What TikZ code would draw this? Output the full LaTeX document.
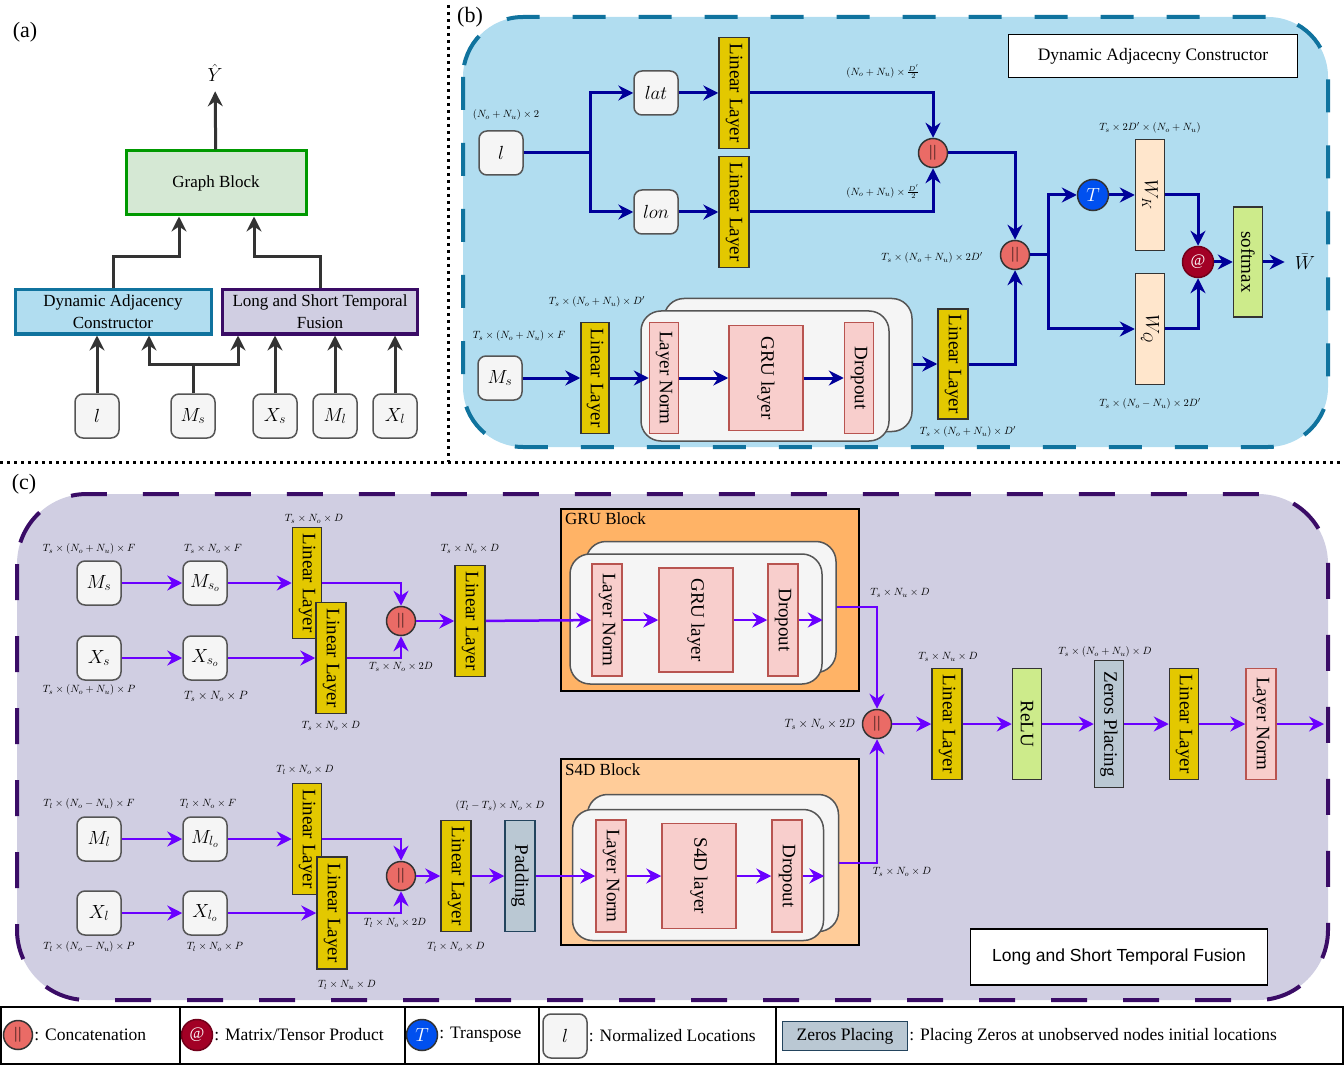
\documentclass[tikz,border=0pt]{standalone}
\usepackage{fix-cm}
\usepackage{amsmath,amssymb}
\usepackage{fontspec}
\setmainfont{Liberation Serif}
\newfontfamily\legsans{Liberation Sans}
\usepackage{xcolor}
\usetikzlibrary{shapes,arrows,arrows.meta,positioning,calc,fit}

\definecolor{boxgray}{HTML}{F5F5F5}
\definecolor{grayline}{HTML}{555555}
\definecolor{panelb}{HTML}{B1DDF0}
\definecolor{panelbline}{HTML}{10739E}
\definecolor{panelc}{HTML}{D0CEE2}
\definecolor{panelcline}{HTML}{3A0C66}
\definecolor{gbfill}{HTML}{D5E8D4}
\definecolor{gbline}{HTML}{009900}
\definecolor{linfill}{HTML}{E3C800}
\definecolor{normfill}{HTML}{F8CECC}
\definecolor{normline}{HTML}{B85450}
\definecolor{wfill}{HTML}{FFE6CC}
\definecolor{smfill}{HTML}{CDEB8B}
\definecolor{zerofill}{HTML}{BAC8D3}
\definecolor{zeroline}{HTML}{23445D}
\definecolor{grufill}{HTML}{FFB366}
\definecolor{s4dfill}{HTML}{FFCC99}
\definecolor{catfill}{HTML}{EA6B66}
\definecolor{trfill}{HTML}{0050EF}
\definecolor{atfill}{HTML}{A20025}
\definecolor{arrowa}{HTML}{333333}
\definecolor{arrowb}{HTML}{000099}
\definecolor{arrowc}{HTML}{6A00FF}

\begin{document}
\begin{tikzpicture}[x=1pt, y=-1pt, >={Stealth[length=15pt,width=15pt,inset=5pt]},
    txt/.style={font=\fontsize{19}{22}\selectfont},
    dim/.style={font=\fontsize{10.5}{12}\selectfont, inner sep=0pt},
    leg/.style={font=\fontsize{17.5}{20}\selectfont, inner sep=1pt, anchor=west},
    inp/.style={draw=grayline, fill=boxgray, rounded corners=8pt, minimum width=44pt, minimum height=44pt, line width=1.5pt, txt},
    vbox/.style={draw, rotate=-90, line width=1.5pt, inner sep=0pt, minimum height=30pt, minimum width=111pt, txt},
    linbox/.style={vbox, fill=linfill, draw=black!80},
    normbox/.style={vbox, fill=normfill, draw=normline},
    stackbox/.style={draw=grayline, fill=boxgray, rounded corners=20pt, line width=1.5pt},
    catnode/.style={circle, draw=black!80, fill=catfill, line width=1.5pt, minimum size=29pt, inner sep=0pt, font=\fontsize{15}{15}\selectfont},
    flowa/.style={->, draw=arrowa, line width=3pt},
    flowb/.style={->, draw=arrowb, line width=3pt},
    flowc/.style={->, draw=arrowc, line width=2.5pt}]

    \useasboundingbox (0,0) rectangle (1344,1067);

    % separators
    \draw[line width=3pt, dash pattern=on 3pt off 4pt] (448,5) -- (448,462);
    \draw[line width=3pt, dash pattern=on 3pt off 4pt] (0,462) -- (1344,462);

    % ---------------- (a) overview
    \node[font=\fontsize{22}{24}\selectfont] (laba) at (25,32) {(a)};
    \node[txt, outer sep=6pt] (yhat) at (215,73) {$\hat{Y}$};
    \node[draw=gbline, fill=gbfill, line width=3pt, minimum width=180pt, minimum height=64pt, font=\fontsize{17}{20}\selectfont] (gb) at (216,183) {Graph Block};
    \node[draw=panelbline, fill=panelb, line width=3pt, minimum width=196pt, minimum height=44pt, inner sep=0pt, align=center, font=\fontsize{17}{22}\selectfont] (dac) at (113,312) {Dynamic Adjacency\\Constructor};
    \node[draw=panelcline, fill=panelc, line width=3pt, minimum width=195pt, minimum height=44pt, inner sep=0pt, align=center, font=\fontsize{17}{22}\selectfont] (lstf) at (320,312) {Long and Short Temporal\\Fusion};
    \node[inp] (al) at (97,416) {$l$};
    \node[inp] (ams) at (193,416) {$M_s$};
    \node[inp] (axs) at (275,416) {$X_s$};
    \node[inp] (aml) at (335,416) {$M_l$};
    \node[inp] (axl) at (395,416) {$X_l$};
    \coordinate (amsj) at (193,364);

    \draw[flowa] (gb) -- (yhat);
    \draw[flowa] (dac.north) -- ++(0,-32) -| ([xshift=-37pt]gb.south);
    \draw[flowa] (lstf.north) -- ++(0,-32) -| ([xshift=38pt]gb.south);
    \draw[flowa] (al) -- (al |- dac.south);
    \draw[flowa] (ams) -- (amsj) -| ([xshift=36pt]dac.south);
    \draw[flowa] (amsj) -| ([xshift=-82pt]lstf.south);
    \draw[flowa] (axs) -- (axs |- lstf.south);
    \draw[flowa] (aml) -- (aml |- lstf.south);
    \draw[flowa] (axl) -- (axl |- lstf.south);

    % ---------------- (b) dynamic adjacency constructor
    \draw[draw=panelbline, fill=panelb, line width=4pt, dash pattern=on 33pt off 33pt, rounded corners=60pt] (463,17) rectangle (1328,447);
    \node[font=\fontsize{22}{24}\selectfont] (labb) at (470,17) {(b)};
    \node[draw, fill=white, line width=1.5pt, minimum width=289pt, minimum height=43pt, font=\fontsize{17.5}{20}\selectfont] (titleb) at (1153,56) {Dynamic Adjacecny Constructor};

    \node[inp] (bl) at (501,153) {$l$};
    \node[inp] (blat) at (656,93) {$lat$};
    \node[inp] (blon) at (656,212) {$lon$};
    \node[linbox] (bll1) at (734,93) {Linear Layer};
    \node[linbox] (bll2) at (734,212) {Linear Layer};
    \node[catnode] (bc1) at (933,153) {$||$};
    \node[catnode] (bc2) at (1015,255) {$||$};
    \node[inp] (bms) at (500,378) {$M_s$};
    \node[linbox, minimum height=28pt] (bll3) at (595,378) {Linear Layer};
    \node[stackbox, minimum width=248pt, minimum height=133pt] (gback) at (788,365) {};
    \node[stackbox, minimum width=248pt, minimum height=130pt] (gfront) at (765,376) {};
    \node[normbox, minimum height=29pt] (bln) at (664,378) {Layer Norm};
    \node[normbox, minimum height=74pt, minimum width=105pt] (bgru) at (766,378) {GRU layer};
    \node[normbox, minimum height=29pt] (bdrop) at (859,378) {Dropout};
    \node[linbox, minimum width=110pt] (bll4) at (953,364) {Linear Layer};
    \node[circle, fill=trfill, draw=black!80, line width=1.5pt, minimum size=31pt, inner sep=0pt, text=white, txt] (bT) at (1093,195) {$T$};
    \node[vbox, fill=wfill, draw=black!80, minimum height=29pt] (bwk) at (1150,195) {$W_K$};
    \node[vbox, fill=wfill, draw=black!80, minimum height=29pt] (bwq) at (1150,329) {$W_Q$};
    \node[circle, fill=atfill, draw=atfill!70!black, line width=1.5pt, minimum size=31pt, inner sep=0pt, text=white, font=\fontsize{16}{16}\selectfont] (bat) at (1198,262) {@};
    \node[vbox, fill=smfill, draw=black!80, minimum height=29pt, minimum width=110pt] (bsm) at (1248,262) {softmax};
    \node[txt, outer sep=7pt] (bwbar) at (1305,262) {$\bar{W}$};
    \coordinate (bj1) at (590,153);
    \coordinate (bj2) at (1048,255);

    \node[dim] (bd1) at (506,115) {$(N_o+N_u)\times 2$};
    \node[dim] (bd2) at (883,72) {$(N_o+N_u)\times \frac{D'}{2}$};
    \node[dim] (bd3) at (883,192) {$(N_o+N_u)\times \frac{D'}{2}$};
    \node[dim] (bd4) at (519,336) {$T_s\times(N_o+N_u)\times F$};
    \node[dim] (bd5) at (597,302) {$T_s\times(N_o+N_u)\times D'$};
    \node[dim] (bd6) at (968,432) {$T_s\times(N_o+N_u)\times D'$};
    \node[dim] (bd7) at (932,258) {$T_s\times(N_o+N_u)\times 2D'$};
    \node[dim] (bd8) at (1150,128) {$T_s\times 2D'\times(N_o+N_u)$};
    \node[dim] (bd9) at (1150,404) {$T_s\times(N_o-N_u)\times 2D'$};

    \draw[flowb, -] (bl) -- (bj1);
    \draw[flowb] (bj1) |- (blat);
    \draw[flowb] (bj1) |- (blon);
    \draw[flowb] (blat) -- (bll1);
    \draw[flowb] (blon) -- (bll2);
    \draw[flowb] (bll1) -| (bc1);
    \draw[flowb] (bll2) -| (bc1);
    \draw[flowb] (bc1) -| (bc2);
    \draw[flowb] (bms) -- (bll3);
    \draw[flowb] (bll3) -- (bln);
    \draw[flowb] (bln) -- (bgru);
    \draw[flowb] (bgru) -- (bdrop);
    \draw[flowb] (gback.east |- bll4) -- (bll4);
    \draw[flowb] (bll4) -| (bc2);
    \draw[flowb, -] (bc2) -- (bj2);
    \draw[flowb] (bj2) |- (bT);
    \draw[flowb] (bj2) |- (bwq);
    \draw[flowb] (bT) -- (bwk);
    \draw[flowb] (bwk) -| (bat);
    \draw[flowb] (bwq) -| (bat);
    \draw[flowb] (bat) -- (bsm);
    \draw[flowb] (bsm) -- (bwbar);

    % ---------------- (c) long and short temporal fusion
    \draw[draw=panelcline, fill=panelc, line width=4pt, dash pattern=on 36pt off 36pt, rounded corners=70pt] (17,494) rectangle (1328,1000);
    \node[font=\fontsize{22}{24}\selectfont] (labc) at (24,484) {(c)};
    \node[draw, fill=white, line width=1.5pt, minimum width=297pt, minimum height=56pt, font=\legsans\fontsize{17.5}{20}\selectfont] (titlec) at (1119,957) {Long and Short Temporal Fusion};

    % short branch
    \node[inp] (cms) at (99,583) {$M_s$};
    \node[inp] (cmso) at (205,583) {$M_{s_o}$};
    \node[inp] (cxs) at (99,658) {$X_s$};
    \node[inp] (cxso) at (205,658) {$X_{s_o}$};
    \node[linbox, minimum height=29pt] (cla) at (307,583) {Linear Layer};
    \node[linbox] (clb) at (331,658) {Linear Layer};
    \node[catnode] (cc1) at (401,621) {$||$};
    \node[linbox] (clc) at (470,621) {Linear Layer};
    \node[draw=black, fill=grufill, line width=2pt, minimum width=298pt, minimum height=182pt] (grublk) at (710,600) {};
    \node[anchor=north west, inner sep=5pt, font=\fontsize{17}{20}\selectfont] (grutit) at (grublk.north west) {GRU Block};
    \node[stackbox, minimum width=250pt, minimum height=131pt] (gback2) at (711,607) {};
    \node[stackbox, minimum width=252pt, minimum height=130pt] (gfront2) at (696,619) {};
    \node[normbox, minimum width=112pt] (cln1) at (607,620) {Layer Norm};
    \node[normbox, minimum height=74pt, minimum width=104pt] (cgl) at (696,620) {GRU layer};
    \node[normbox, minimum width=112pt] (cdr1) at (783,620) {Dropout};

    % long branch
    \node[inp] (cml) at (99,839) {$M_l$};
    \node[inp] (cmlo) at (205,839) {$M_{l_o}$};
    \node[inp] (cxl) at (99,913) {$X_l$};
    \node[inp] (cxlo) at (205,913) {$X_{l_o}$};
    \node[linbox, minimum height=29pt] (cld) at (307,839) {Linear Layer};
    \node[linbox, minimum width=112pt] (cle) at (332,913) {Linear Layer};
    \node[catnode] (cc2) at (401,876) {$||$};
    \node[linbox] (clf) at (456,876) {Linear Layer};
    \node[vbox, fill=zerofill, draw=zeroline] (cpad) at (520,876) {Padding};
    \node[draw=black, fill=s4dfill, line width=2pt, minimum width=298pt, minimum height=186pt] (s4dblk) at (710,852) {};
    \node[anchor=north west, inner sep=5pt, font=\fontsize{17}{20}\selectfont] (s4dtit) at (s4dblk.north west) {S4D Block};
    \node[stackbox, minimum width=251pt, minimum height=137pt] (gback3) at (713,863) {};
    \node[stackbox, minimum width=251pt, minimum height=131pt] (gfront3) at (698,875) {};
    \node[normbox, minimum width=112pt] (cln2) at (611,876) {Layer Norm};
    \node[normbox, minimum height=74pt, minimum width=105pt] (csl) at (699,876) {S4D layer};
    \node[normbox, minimum width=112pt] (cdr2) at (787,876) {Dropout};

    % fusion head
    \node[catnode] (cbig) at (877,724) {$||$};
    \node[linbox] (clg) at (947,724) {Linear Layer};
    \node[vbox, fill=smfill, draw=black!80, minimum height=29pt] (crelu) at (1027,724) {ReLU};
    \node[vbox, fill=zerofill, draw=black!80, minimum height=29pt, minimum width=127pt] (czp) at (1109,724) {Zeros Placing};
    \node[linbox, minimum height=29pt] (clh) at (1184,724) {Linear Layer};
    \node[normbox] (clnf) at (1261,724) {Layer Norm};
    \coordinate (cout) at (1324,724);

    \node[dim] (cd1) at (89,549) {$T_s\times(N_o+N_u)\times F$};
    \node[dim] (cd2) at (213,549) {$T_s\times N_o\times F$};
    \node[dim] (cd3) at (89,690) {$T_s\times(N_o+N_u)\times P$};
    \node[dim, font=\fontsize{12}{13}\selectfont] (cd4) at (216,696) {$T_s\times N_o\times P$};
    \node[dim] (cd5) at (314,519) {$T_s\times N_o\times D$};
    \node[dim] (cd6) at (331,726) {$T_s\times N_o\times D$};
    \node[dim] (cd7) at (401,667) {$T_s\times N_o\times 2D$};
    \node[dim] (cd8) at (470,549) {$T_s\times N_o\times D$};
    \node[dim] (cd9) at (900,593) {$T_s\times N_u\times D$};
    \node[dim, font=\fontsize{12}{13}\selectfont] (cd10) at (820,724) {$T_s\times N_o\times 2D$};
    \node[dim] (cd11) at (948,657) {$T_s\times N_u\times D$};
    \node[dim] (cd12) at (1105,652) {$T_s\times(N_o+N_u)\times D$};
    \node[dim] (cd13) at (902,872) {$T_s\times N_o\times D$};
    \node[dim] (cd14) at (89,804) {$T_l\times(N_o-N_u)\times F$};
    \node[dim] (cd15) at (208,804) {$T_l\times N_o\times F$};
    \node[dim] (cd16) at (89,947) {$T_l\times(N_o-N_u)\times P$};
    \node[dim] (cd17) at (215,947) {$T_l\times N_o\times P$};
    \node[dim] (cd18) at (305,770) {$T_l\times N_o\times D$};
    \node[dim] (cd19) at (347,985) {$T_l\times N_u\times D$};
    \node[dim] (cd20) at (395,923) {$T_l\times N_o\times 2D$};
    \node[dim] (cd21) at (456,947) {$T_l\times N_o\times D$};
    \node[dim] (cd22) at (500,806) {$(T_l-T_s)\times N_o\times D$};

    \draw[flowc] (cms) -- (cmso);
    \draw[flowc] (cxs) -- (cxso);
    \draw[flowc] (cmso) -- (cla);
    \draw[flowc] (cxso) -- (clb);
    \draw[flowc] (cla) -| (cc1);
    \draw[flowc] (clb) -| (cc1);
    \draw[flowc] (cc1) -- (clc);
    \draw[flowc] (clc) -- (cln1);
    \draw[flowc] (cln1) -- (cgl);
    \draw[flowc] (cgl) -- (cdr1);
    \draw[flowc] (cdr1) -- (cdr1 -| gfront2.east);
    \draw[flowc] (gback2.east) -| (cbig);

    \draw[flowc] (cml) -- (cmlo);
    \draw[flowc] (cxl) -- (cxlo);
    \draw[flowc] (cmlo) -- (cld);
    \draw[flowc] (cxlo) -- (cle);
    \draw[flowc] (cld) -| (cc2);
    \draw[flowc] (cle) -| (cc2);
    \draw[flowc] (cc2) -- (clf);
    \draw[flowc] (clf) -- (cpad);
    \draw[flowc] (cpad) -- (cln2);
    \draw[flowc] (cln2) -- (csl);
    \draw[flowc] (csl) -- (cdr2);
    \draw[flowc] (cdr2) -- (cdr2 -| gfront3.east);
    \draw[flowc] (gback3.east) -| (cbig);

    \draw[flowc] (cbig) -- (clg);
    \draw[flowc] (clg) -- (crelu);
    \draw[flowc] (crelu) -- (czp);
    \draw[flowc] (czp) -- (clh);
    \draw[flowc] (clh) -- (clnf);
    \draw[flowc] (clnf) -- (cout);

    % ---------------- legend
    \draw[line width=1.5pt] (1,1007) rectangle (1343,1064);
    \foreach \x in {180,405,539,776}
        \draw[line width=1.5pt] (\x,1007) -- (\x,1064);
    \node[catnode] (lgcat) at (18,1035) {$||$};
    \node[leg] (lgcatt) at (lgcat.east) {: Concatenation};
    \node[circle, fill=atfill, draw=atfill!70!black, line width=1.5pt, minimum size=31pt, inner sep=0pt, text=white, font=\fontsize{16}{16}\selectfont] (lgat) at (197,1035) {@};
    \node[leg] (lgatt) at (lgat.east) {: Matrix/Tensor Product};
    \node[circle, fill=trfill, draw=black!80, line width=1.5pt, minimum size=31pt, inner sep=0pt, text=white, txt] (lgtr) at (422,1035) {$T$};
    \node[leg] (lgtrt) at (lgtr.east) {: Transpose};
    \node[inp] (lgl) at (565,1036) {$l$};
    \node[leg] (lglt) at (lgl.east) {: Normalized Locations};
    \node[draw=zeroline, fill=zerofill, line width=1.5pt, minimum width=125pt, minimum height=29pt, inner sep=0pt, font=\fontsize{17.5}{20}\selectfont] (lgzp) at (845,1036) {Zeros Placing};
    \node[leg] (lgzpt) at (lgzp.east) {: Placing Zeros at unobserved nodes initial locations};
\end{tikzpicture}
\end{document}
